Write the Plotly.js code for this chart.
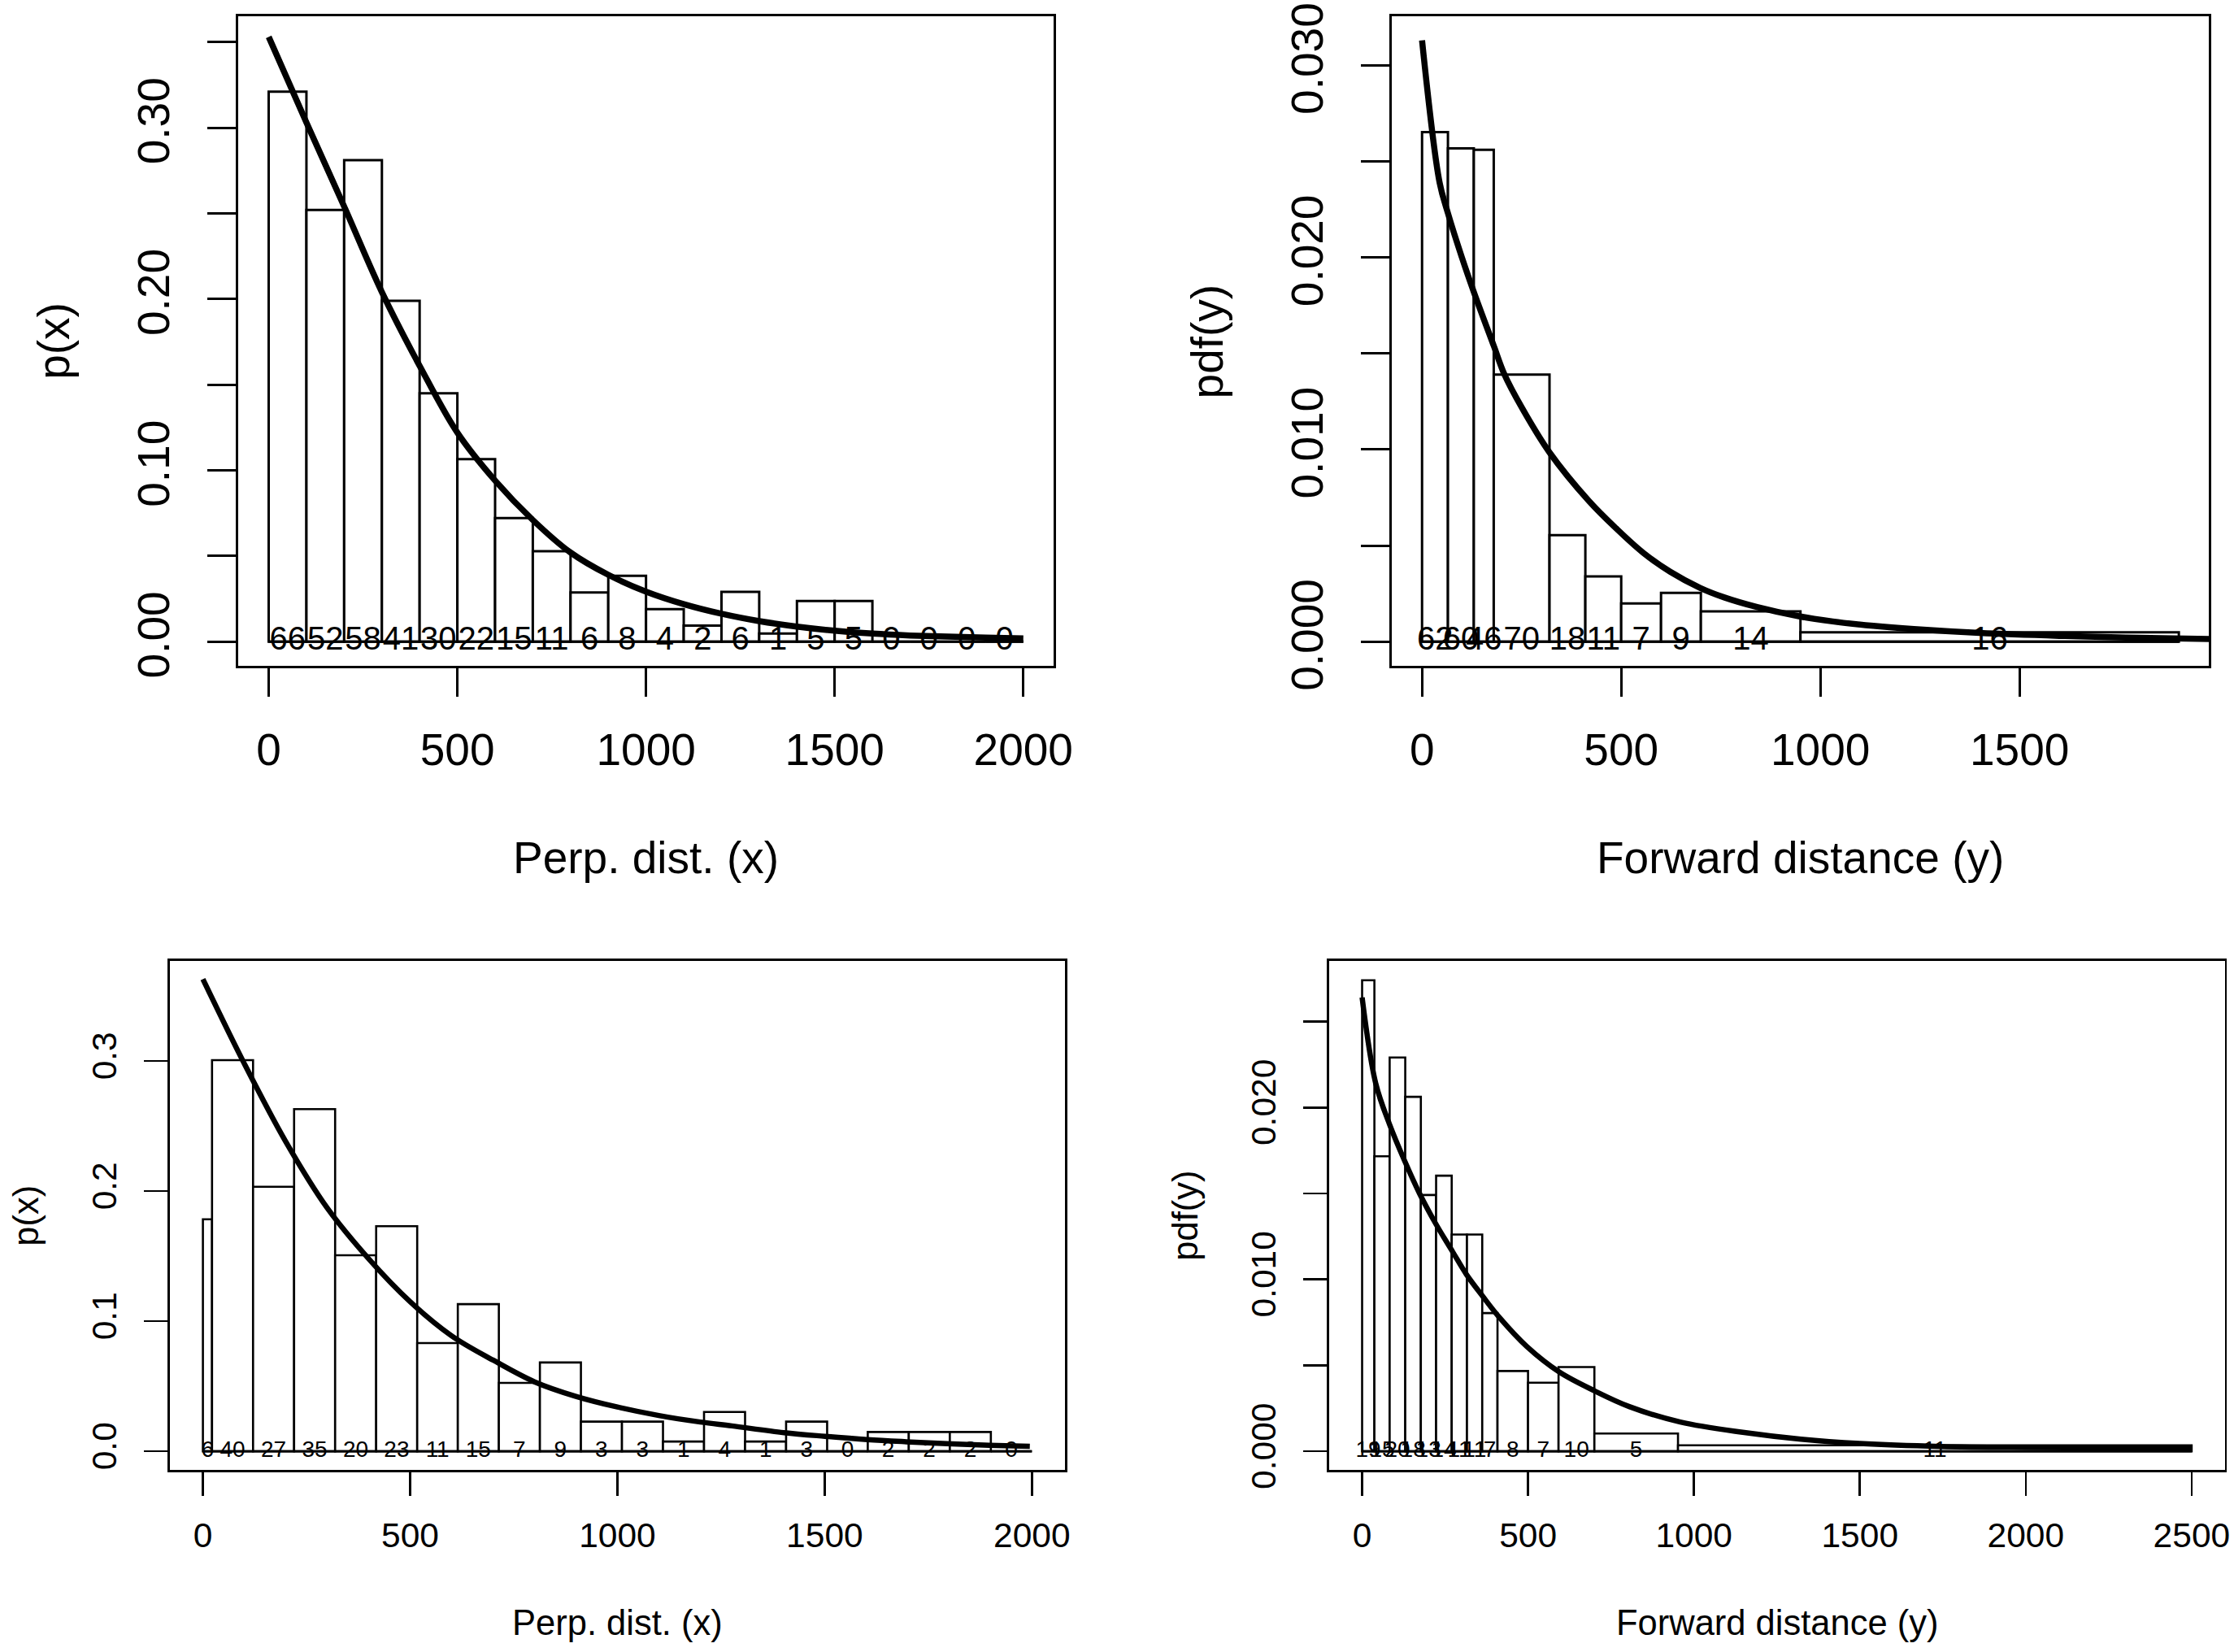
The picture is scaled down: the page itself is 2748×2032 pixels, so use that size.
<!DOCTYPE html>
<html>
<head>
<meta charset="utf-8">
<script src="https://cdn.plot.ly/plotly-3.0.1.min.js"></script>
<style>html,body{margin:0;padding:0;background:#fff;}#chart{width:2748px;height:2032px;}</style>
</head>
<body>
<div id="chart"></div>
<script>
// ---------- Panel 1 (top-left): Perp. dist. (x) ----------
const tlEdges   = [0,100,200,300,400,500,600,700,800,900,1000,1100,1200,1300,1400,1500,1600,1700,1800,1900,2000];
const tlHeights = [0.321,0.252,0.281,0.199,0.145,0.1065,0.0721,0.0528,0.0287,0.0384,0.019,0.0094,0.029,0.0047,0.0237,0.0237,0,0,0,0];
const tlCounts  = [66,52,58,41,30,22,15,11,6,8,4,2,6,1,5,5,0,0,0,0];
const tlCurveX  = [0,100,200,300,400,500,600,700,800,900,1000,1100,1200,1300,1400,1500,1600,1700,1800,1900,2000];
const tlCurveY  = [0.353,0.303,0.254,0.204,0.161,0.122,0.094,0.071,0.052,0.039,0.0292,0.0219,0.0163,0.012,0.0088,0.0064,0.0047,0.0036,0.0029,0.0023,0.0019];
const tlXTicks  = [0,500,1000,1500,2000];
const tlYTicks  = [0,0.05,0.10,0.15,0.20,0.25,0.30,0.35];
const tlYLabels = ['0.00','','0.10','','0.20','','0.30',''];

// ---------- Panel 2 (top-right): Forward distance (y) ----------
const trEdges   = [0,65,130,180,320,410,500,600,700,950,1900];
const trHeights = [0.02652,0.02568,0.0256,0.0139,0.00554,0.00339,0.00199,0.00254,0.00157,0.00048];
const trCounts  = [62,60,46,70,18,11,7,9,14,16];
const trCurveX  = [0,44,65,100,130,180,207,250,320,419,487,555,623,698,759,841,946,1031,1133,1235,1400,1600,1800,2000];
const trCurveY  = [0.0313,0.0239,0.0223,0.0200,0.0182,0.0154,0.0139,0.0122,0.00985,0.00732,0.0059,0.00463,0.00364,0.0028,0.0023,0.0018,0.00132,0.00105,0.00082,0.00065,0.00045,0.0003,0.0002,0.00013];
const trXTicks  = [0,500,1000,1500];
const trYTicks  = [0,0.005,0.010,0.015,0.020,0.025,0.030];
const trYLabels = ['0.000','','0.010','','0.020','','0.030'];

// ---------- Panel 3 (bottom-left): Perp. dist. (x) ----------
const blEdges   = [0,22,121,220,319,418,517,615,714,813,912,1011,1110,1209,1308,1407,1506,1604,1703,1802,1901,2000];
const blHeights = [0.1784,0.3007,0.2034,0.2631,0.1507,0.1731,0.0832,0.1131,0.0526,0.0683,0.0228,0.0228,0.0075,0.0302,0.0075,0.0228,0,0.0148,0.0148,0.0148,0];
const blCounts  = [6,40,27,35,20,23,11,15,7,9,3,3,1,4,1,3,0,2,2,2,0];
const blCurveX  = [0,100,200,300,400,500,600,700,800,900,1000,1100,1200,1276,1402,1501,1603,1697,1795,1897,1995];
const blCurveY  = [0.363,0.298,0.238,0.187,0.148,0.115,0.0888,0.0701,0.0534,0.0422,0.034,0.0275,0.0225,0.0195,0.0143,0.0115,0.009,0.0073,0.0058,0.0046,0.0038];
const blXTicks  = [0,500,1000,1500,2000];
const blYTicks  = [0,0.1,0.2,0.3];
const blYLabels = ['0.0','0.1','0.2','0.3'];

// ---------- Panel 4 (bottom-right): Forward distance (y) ----------
const brEdges   = [0,37,83,130,177,223,270,316,362,408,500,592,700,952,2500];
const brHeights = [0.0274,0.01716,0.02291,0.02062,0.01491,0.01603,0.01261,0.01261,0.00804,0.00467,0.00399,0.0049,0.00103,0.00035];
const brCounts  = [19,15,20,18,13,14,11,11,7,8,7,10,5,11];
const brCurveX  = [0,41,83,128,173,223,273,314,364,413,496,595,702,805,959,1147,1323,1500,1744,2000,2500];
const brCurveY  = [0.0264,0.0214,0.0190,0.0169,0.0150,0.0132,0.0116,0.0103,0.0090,0.0078,0.0061,0.0046,0.0035,0.0026,0.0017,0.0011,0.0007,0.00045,0.00028,0.00022,0.00018];
const brXTicks  = [0,500,1000,1500,2000,2500];
const brYTicks  = [0,0.005,0.010,0.015,0.020,0.025];
const brYLabels = ['0.000','','0.010','','0.020',''];

const xTitles = ['Perp. dist. (x)','Forward distance (y)','Perp. dist. (x)','Forward distance (y)'];
const yTitles = ['p(x)','pdf(y)','p(x)','pdf(y)'];

// ---------- layout helpers (pixels of the 2748x2032 page) ----------
const W = 2748, H = 2032;
const FONT = 'Liberation Sans, Arial, Helvetica, sans-serif';
const px = v => v / W;
const py = v => 1 - v / H;

const panels = [
  {edges: tlEdges, h: tlHeights, c: tlCounts, cx: tlCurveX, cy: tlCurveY, xt: tlXTicks, yt: tlYTicks, yl: tlYLabels,
   box: [293.4, 1295.9, 20.0, 818.8], xr: [-80, 2080], yr: [-0.01404, 0.36504], big: true},
  {edges: trEdges, h: trHeights, c: trCounts, cx: trCurveX, cy: trCurveY, xt: trXTicks, yt: trYTicks, yl: trYLabels,
   box: [1712.0, 2717.4, 20.0, 818.8], xr: [-76, 1976], yr: [-0.001252, 0.032552], big: true},
  {edges: blEdges, h: blHeights, c: blCounts, cx: blCurveX, cy: blCurveY, xt: blXTicks, yt: blYTicks, yl: blYLabels,
   box: [208.8, 1310.1, 1181.7, 1808.3], xr: [-80, 2080], yr: [-0.01451, 0.37719], big: false},
  {edges: brEdges, h: brHeights, c: brCounts, cx: brCurveX, cy: brCurveY, xt: brXTicks, yt: brYTicks, yl: brYLabels,
   box: [1634.7, 2736.7, 1181.7, 1808.3], xr: [-100, 2600], yr: [-0.0010976, 0.0285376], big: false}
];

const traces = [];
const layout = {
  width: W, height: H, autosize: false,
  margin: {l: 0, r: 0, t: 0, b: 0, pad: 0},
  paper_bgcolor: '#ffffff', plot_bgcolor: '#ffffff',
  showlegend: false,
  font: {family: FONT, color: '#000'},
  annotations: []
};

panels.forEach((p, i) => {
  const n = i + 1;
  const xa = 'x' + (n === 1 ? '' : n), ya = 'y' + (n === 1 ? '' : n);
  const tickSize = p.big ? 55 : 42.5;
  const titleSize = p.big ? 55 : 43.5;
  const countSize = p.big ? 40 : 28;
  const tlen = p.big ? 35 : 29;
  const barLine = p.big ? 3 : 2.6;
  const curveW = p.big ? 7.5 : 6.5;

  const mids = [], widths = [];
  for (let k = 0; k < p.h.length; k++) {
    mids.push((p.edges[k] + p.edges[k + 1]) / 2);
    widths.push(p.edges[k + 1] - p.edges[k]);
  }

  traces.push({
    type: 'bar', x: mids, y: p.h, width: widths, xaxis: xa, yaxis: ya,
    marker: {color: '#ffffff', line: {color: '#000', width: barLine}},
    hoverinfo: 'skip'
  });
  traces.push({
    type: 'scatter', mode: 'lines', xaxis: xa, yaxis: ya,
    x: [p.edges[0], p.edges[p.edges.length - 1]], y: [0, 0],
    line: {color: '#000', width: barLine}, hoverinfo: 'skip'
  });
  traces.push({
    type: 'scatter', mode: 'text', xaxis: xa, yaxis: ya,
    x: mids, y: mids.map(() => 0), text: p.c.map(String),
    textposition: 'middle center', cliponaxis: false,
    textfont: {family: FONT, size: countSize, color: '#000'}, hoverinfo: 'skip'
  });
  traces.push({
    type: 'scatter', mode: 'lines', xaxis: xa, yaxis: ya,
    x: p.cx, y: p.cy,
    line: {color: '#000', width: curveW, shape: 'spline', smoothing: 1},
    hoverinfo: 'skip'
  });

  const axCommon = {
    showgrid: false, zeroline: false, showline: true, mirror: true,
    linecolor: '#000', linewidth: p.big ? 3 : 2.6,
    ticks: 'outside', ticklen: tlen, tickwidth: p.big ? 3 : 2.6, tickcolor: '#000',
    tickfont: {family: FONT, size: tickSize, color: '#000'},
    fixedrange: true
  };
  layout['xaxis' + (n === 1 ? '' : n)] = Object.assign({}, axCommon, {
    domain: [px(p.box[0]), px(p.box[1])], anchor: ya, range: p.xr,
    tickmode: 'array', tickvals: p.xt, ticktext: p.xt.map(String),
    ticklabelstandoff: p.big ? 18 : 12
  });
  layout['yaxis' + (n === 1 ? '' : n)] = Object.assign({}, axCommon, {
    domain: [py(p.box[3]), py(p.box[2])], anchor: xa, range: p.yr,
    tickmode: 'array', tickvals: p.yt, ticktext: p.yl, tickangle: -90,
    ticklabelstandoff: p.big ? 25 : 17
  });

  const cxBox = (p.box[0] + p.box[1]) / 2;
  const cyBox = (p.box[2] + p.box[3]) / 2;
  layout.annotations.push({
    xref: 'paper', yref: 'paper', x: px(cxBox), y: py(p.box[3] + (p.big ? 236 : 188)),
    xanchor: 'center', yanchor: 'middle', showarrow: false, text: xTitles[i],
    font: {family: FONT, size: titleSize, color: '#000'}
  });
  layout.annotations.push({
    xref: 'paper', yref: 'paper', x: px(p.box[0] - (p.big ? 227 : 177)), y: py(cyBox),
    xanchor: 'center', yanchor: 'middle', showarrow: false, text: yTitles[i], textangle: -90,
    font: {family: FONT, size: titleSize, color: '#000'}
  });
});

Plotly.newPlot('chart', traces, layout, {staticPlot: true, displayModeBar: false});
</script>
</body>
</html>
